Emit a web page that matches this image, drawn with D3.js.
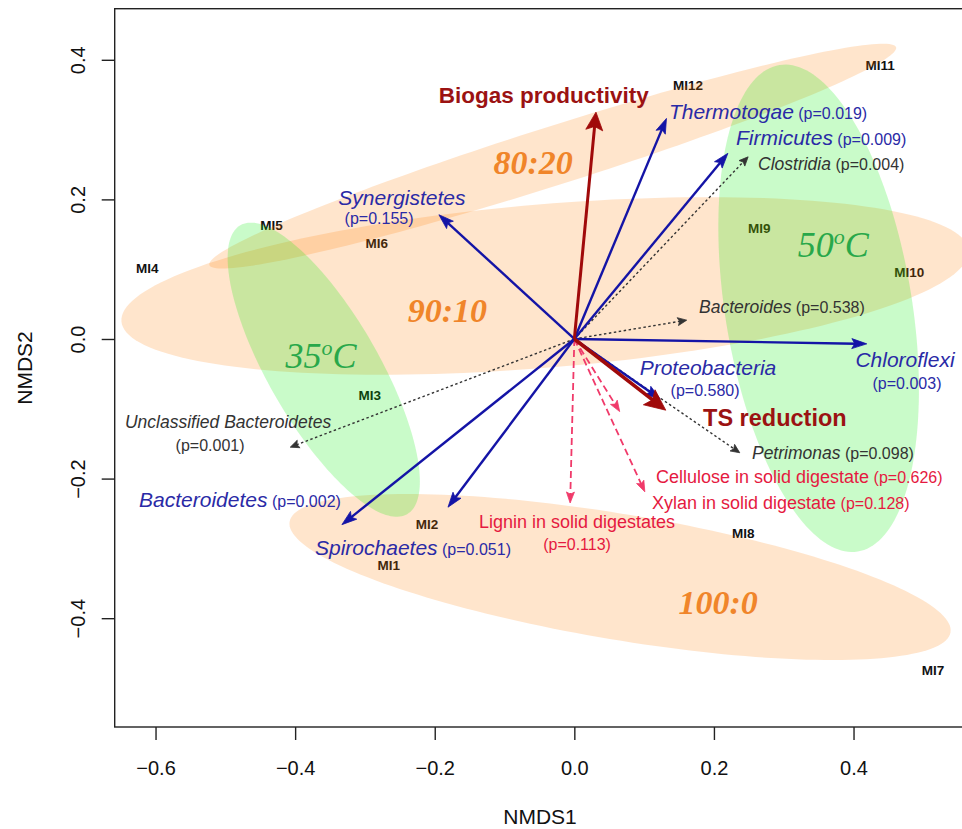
<!DOCTYPE html>
<html>
<head>
<meta charset="utf-8">
<script src="https://cdn.jsdelivr.net/npm/d3@7"></script>
<style>
body { margin: 0; background: #fff; }
svg { display: block; font-family: "Liberation Sans", Arial, sans-serif; }
</style>
</head>
<body>
<svg id="chart" width="962" height="829"></svg>
<script>
// sample scores (NMDS1, NMDS2)
const samples = ["MI1","MI2","MI3","MI4","MI5","MI6","MI7","MI8","MI9","MI10","MI11","MI12"];
const nmds1 = [-0.266, -0.211, -0.293, -0.612, -0.434, -0.283, 0.514, 0.242, 0.265, 0.480, 0.438, 0.163];
const nmds2 = [-0.324, -0.266, -0.080, 0.102, 0.163, 0.137, -0.475, -0.278, 0.159, 0.096, 0.392, 0.364];

// fitted vectors: phyla (blue)
const phyla = ["Thermotogae","Firmicutes","Synergistetes","Chloroflexi","Proteobacteria","Bacteroidetes","Spirochaetes"];
const phylaP = ["0.019","0.009","0.155","0.003","0.580","0.002","0.051"];
const phylaX = [0.132, 0.220, -0.194, 0.419, 0.123, -0.333, -0.181];
const phylaY = [0.316, 0.266, 0.178, -0.007, -0.086, -0.266, -0.241];

// genera (dotted)
const genera = ["Clostridia","Bacteroides","Petrimonas","Unclassified Bacteroidetes"];
const generaP = ["0.004","0.538","0.098","0.001"];
const generaX = [0.249, 0.161, 0.237, -0.407];
const generaY = [0.261, 0.027, -0.163, -0.155];

// solid digestate composition (red dashed)
const digestate = ["Cellulose in solid digestate","Xylan in solid digestate","Lignin in solid digestates"];
const digestateP = ["0.626","0.128","0.113"];
const digestateX = [0.065, 0.101, -0.006];
const digestateY = [-0.104, -0.219, -0.235];

// performance (dark red)
const perf = ["Biogas productivity","TS reduction"];
const perfX = [0.031, 0.131];
const perfY = [0.325, -0.102];

// ellipses: substrate ratio groups and temperature groups
const ratioGroups = ["80:20","90:10","100:0"];
const ratioCx = [-0.031, -0.042, 0.0655];
const ratioCy = [0.262, 0.076, -0.341];
const ratioA = [0.516, 0.609, 0.480];
const ratioB = [0.042, 0.117, 0.090];
const ratioAngle = [17.6, 4.8, -9.5];
const ratioLabX = [-0.059, -0.182, 0.206];
const ratioLabY = [0.254, 0.042, -0.377];

const tempGroups = ["35", "50"];
const tempCx = [-0.359, 0.350];
const tempCy = [-0.044, 0.044];
const tempA = [0.239, 0.353];
const tempB = [0.079, 0.134];
const tempAngle = [120, 99.15];
const tempLabX = [-0.363, 0.371];
const tempLabY = [-0.023, 0.135];

// label anchors (data units); no p position -> p inline after the name
const phylaLab = [
  {x: 0.1355, y: 0.3252, anchor: "start"},
  {x: 0.2317, y: 0.2880, anchor: "start"},
  {x: -0.2470, y: 0.2020, anchor: "middle", px: -0.2798, py: 0.1734},
  {x: 0.4738, y: -0.0301, anchor: "middle", px: 0.4766, py: -0.0630},
  {x: 0.1915, y: -0.0415, anchor: "middle", px: 0.1873, py: -0.0731},
  {x: -0.6236, y: -0.2307, anchor: "start"},
  {x: -0.3715, y: -0.2994, anchor: "start"}
];
const generaLab = [
  {x: 0.2632, y: 0.2507, anchor: "start"},
  {x: 0.1786, y: 0.0458, anchor: "start"},
  {x: 0.2545, y: -0.1633, anchor: "start"},
  {x: -0.4961, y: -0.1189, anchor: "middle", px: -0.5219, py: -0.1519}
];
const digestateLab = [
  {x: 0.1170, y: -0.1977, anchor: "start"},
  {x: 0.1113, y: -0.2350, anchor: "start"},
  {x: 0.0039, y: -0.2622, anchor: "middle", px: 0.0039, py: -0.2937}
];
const perfLab = [
  {x: -0.0438, y: 0.3496, anchor: "middle"},
  {x: 0.1844, y: -0.1132, anchor: "start"}
];

const xTicks = [-0.6, -0.4, -0.2, 0.0, 0.2, 0.4];
const yTicks = [-0.4, -0.2, 0.0, 0.2, 0.4];

// setup
const box = {left: 114.7, right: 965, top: 8.7, bottom: 727};
const svg = d3.select('#chart');

const x = d3.scaleLinear().domain([-0.6585, 0.5597]).range([box.left, box.right]);
const y = d3.scaleLinear().domain([-0.5559, 0.4732]).range([box.bottom, box.top]);

svg.append('clipPath').attr('id', 'plotclip')
   .append('rect')
   .attr('x', box.left).attr('y', box.top)
   .attr('width', box.right - box.left).attr('height', box.bottom - box.top);

const plot = svg.append('g').attr('clip-path', 'url(#plotclip)');

// sample labels go under the translucent ellipses
plot.selectAll('.site')
    .data(samples)
    .enter()
    .append('text')
    .attr('class', 'site')
    .attr('x', (d, i) => x(nmds1[i]))
    .attr('y', (d, i) => y(nmds2[i]))
    .attr('dy', '0.35em')
    .attr('text-anchor', 'middle')
    .attr('font-size', 13.5)
    .attr('font-weight', 'bold')
    .attr('fill', '#111')
    .text(d => d);

// ellipse outline from centre / semi-axes / rotation
const ellipsePath = (cx, cy, a, b, angle) => {
  const t = angle * Math.PI / 180;
  const pts = d3.range(0, 360, 2).map(deg => {
    const s = deg * Math.PI / 180;
    const u = a * Math.cos(s), v = b * Math.sin(s);
    return [x(cx + u * Math.cos(t) - v * Math.sin(t)), y(cy + u * Math.sin(t) + v * Math.cos(t))];
  });
  return d3.line()(pts) + 'Z';
};

plot.selectAll('.ratio-ell')
    .data(ratioGroups)
    .enter()
    .append('path')
    .attr('class', 'ratio-ell')
    .attr('d', (d, i) => ellipsePath(ratioCx[i], ratioCy[i], ratioA[i], ratioB[i], ratioAngle[i]))
    .attr('fill', '#FF7F00')
    .attr('fill-opacity', 0.2);

plot.selectAll('.temp-ell')
    .data(tempGroups)
    .enter()
    .append('path')
    .attr('class', 'temp-ell')
    .attr('d', (d, i) => ellipsePath(tempCx[i], tempCy[i], tempA[i], tempB[i], tempAngle[i]))
    .attr('fill', '#00EB00')
    .attr('fill-opacity', 0.21);

// group names
plot.selectAll('.ratio-lab')
    .data(ratioGroups)
    .enter()
    .append('text')
    .attr('class', 'ratio-lab')
    .attr('x', (d, i) => x(ratioLabX[i]))
    .attr('y', (d, i) => y(ratioLabY[i]))
    .attr('dy', '0.35em')
    .attr('text-anchor', 'middle')
    .attr('font-family', '"Liberation Serif", "Times New Roman", serif')
    .attr('font-style', 'italic')
    .attr('font-weight', 'bold')
    .attr('font-size', 34)
    .attr('fill', '#F0852A')
    .text(d => d);

const tempLab = plot.selectAll('.temp-lab')
    .data(tempGroups)
    .enter()
    .append('text')
    .attr('class', 'temp-lab')
    .attr('x', (d, i) => x(tempLabX[i]))
    .attr('y', (d, i) => y(tempLabY[i]))
    .attr('dy', '0.35em')
    .attr('text-anchor', 'middle')
    .attr('font-family', '"Liberation Serif", "Times New Roman", serif')
    .attr('font-style', 'italic')
    .attr('font-size', 36)
    .attr('fill', '#28A84A');
tempLab.append('tspan').text(d => d);
tempLab.append('tspan').attr('font-size', 22).attr('dy', -13).text('o');
tempLab.append('tspan').attr('dy', 13).text('C');

// arrows from the origin
const arrows = svg.append('g');

const drawArrows = (xs, ys, opt) => {
  xs.forEach((vx, i) => {
    const x0 = x(0), y0 = y(0), x1 = x(vx), y1 = y(ys[i]);
    const len = Math.hypot(x1 - x0, y1 - y0);
    const ux = (x1 - x0) / len, uy = (y1 - y0) / len;
    const bx = x1 - ux * opt.head, by = y1 - uy * opt.head;
    arrows.append('line')
          .attr('x1', x0).attr('y1', y0)
          .attr('x2', x1 - ux * opt.head * 0.7).attr('y2', y1 - uy * opt.head * 0.7)
          .attr('stroke', opt.color)
          .attr('stroke-width', opt.width)
          .attr('stroke-dasharray', opt.dash || null);
    const p1 = [bx - uy * opt.half, by + ux * opt.half];
    const p2 = [bx + uy * opt.half, by - ux * opt.half];
    const notch = [x1 - ux * opt.head * 0.8, y1 - uy * opt.head * 0.8];
    arrows.append('path')
          .attr('d', d3.line()([[x1, y1], p1, notch, p2]) + 'Z')
          .attr('fill', opt.color)
          .attr('stroke', opt.color)
          .attr('stroke-width', 0.8)
          .attr('stroke-linejoin', 'miter');
  });
};

drawArrows(digestateX, digestateY, {color: '#F03A6A', width: 1.8, dash: '7,4', head: 11, half: 4});
drawArrows(generaX, generaY, {color: '#333', width: 1.4, dash: '2.5,2.5', head: 9, half: 4});
drawArrows(phylaX, phylaY, {color: '#1414A6', width: 2.4, head: 15, half: 5});
drawArrows(perfX.slice(0, 1), perfY.slice(0, 1), {color: '#A00A0A', width: 3, head: 18, half: 8.5});
drawArrows(perfX.slice(1), perfY.slice(1), {color: '#A00A0A', width: 3.6, head: 21, half: 9.5});

// vector labels
const labels = svg.append('g');

const drawLabels = (names, pvals, pos, style) => {
  names.forEach((name, i) => {
    const L = pos[i];
    const t = labels.append('text')
                    .attr('x', x(L.x))
                    .attr('y', y(L.y))
                    .attr('dy', '0.35em')
                    .attr('text-anchor', L.anchor)
                    .attr('font-size', style.size)
                    .attr('fill', style.color);
    t.append('tspan').attr('font-style', style.italic ? 'italic' : null).text(name);
    const ptxt = `(p=${pvals[i]})`;
    if (L.px === undefined) {
      t.append('tspan').attr('font-size', style.psize).text(' ' + ptxt);
    } else {
      labels.append('text')
            .attr('x', x(L.px))
            .attr('y', y(L.py))
            .attr('dy', '0.35em')
            .attr('text-anchor', 'middle')
            .attr('font-size', style.psize)
            .attr('fill', style.color)
            .text(ptxt);
    }
  });
};

drawLabels(phyla, phylaP, phylaLab, {size: 21, psize: 16, color: '#2A2AA6', italic: true});
drawLabels(genera, generaP, generaLab, {size: 17.5, psize: 16, color: '#333', italic: true});
drawLabels(digestate, digestateP, digestateLab, {size: 18, psize: 16, color: '#E5193F', italic: false});

labels.selectAll('.perf')
      .data(perf)
      .enter()
      .append('text')
      .attr('class', 'perf')
      .attr('x', (d, i) => x(perfLab[i].x))
      .attr('y', (d, i) => y(perfLab[i].y))
      .attr('dy', '0.35em')
      .attr('text-anchor', (d, i) => perfLab[i].anchor)
      .attr('font-size', (d, i) => i === 0 ? 22.5 : 23.5)
      .attr('font-weight', 'bold')
      .attr('fill', '#9B1212')
      .text(d => d);

// frame and axes
svg.append('rect')
   .attr('x', box.left).attr('y', box.top)
   .attr('width', box.right - box.left).attr('height', box.bottom - box.top)
   .attr('fill', 'none')
   .attr('stroke', '#222')
   .attr('stroke-width', 1.4);

const xAxis = svg.append('g')
                 .attr('transform', `translate(0, ${box.bottom})`)
                 .call(d3.axisBottom(x).tickValues(xTicks).tickFormat(d3.format('.1f'))
                        .tickSize(13).tickSizeOuter(0).tickPadding(21));
const yAxis = svg.append('g')
                 .attr('transform', `translate(${box.left}, 0)`)
                 .call(d3.axisLeft(y).tickValues(yTicks).tickFormat(d3.format('.1f'))
                        .tickSize(13).tickSizeOuter(0));

[xAxis, yAxis].forEach(ax => {
  ax.select('.domain').remove();
  ax.selectAll('line').attr('stroke', '#222').attr('stroke-width', 1.4);
  ax.selectAll('text').attr('font-size', 20).attr('fill', '#111')
    .attr('font-family', '"Liberation Sans", Arial, sans-serif');
});

yAxis.selectAll('text')
     .attr('transform', 'rotate(-90)')
     .attr('x', 0)
     .attr('y', -29.7)
     .attr('dy', 0)
     .attr('text-anchor', 'middle');

svg.append('text')
   .attr('x', 540).attr('y', 817)
   .attr('dy', '0.35em')
   .attr('text-anchor', 'middle')
   .attr('font-size', 21)
   .attr('fill', '#111')
   .text('NMDS1');

svg.append('text')
   .attr('transform', 'translate(25, 368) rotate(-90)')
   .attr('dy', '0.35em')
   .attr('text-anchor', 'middle')
   .attr('font-size', 21)
   .attr('fill', '#111')
   .text('NMDS2');
</script>
</body>
</html>
